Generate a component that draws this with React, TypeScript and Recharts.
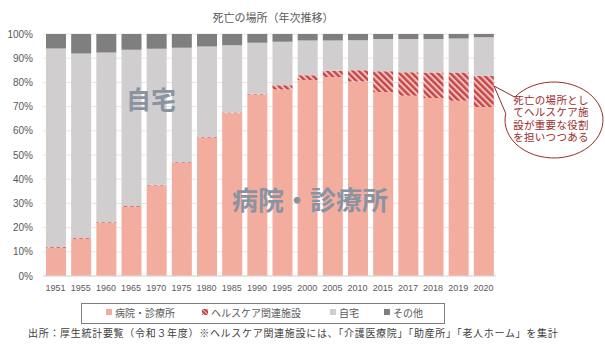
import { Bar, BarChart, CartesianGrid, XAxis, YAxis } from "recharts";

const years = ["1951", "1955", "1960", "1965", "1970", "1975", "1980", "1985", "1990", "1995", "2000", "2005", "2010", "2015", "2017", "2018", "2019", "2020"];
const hospital = [11.7, 15.4, 21.9, 28.6, 37.4, 46.7, 57.0, 67.3, 75.0, 77.1, 81.0, 82.2, 80.4, 76.0, 74.5, 73.6, 72.4, 69.8];
const healthcare = [0.3, 0.3, 0.3, 0.3, 0.3, 0.3, 0.3, 0.3, 0.3, 1.7, 2.0, 2.6, 4.6, 8.6, 9.7, 10.5, 11.7, 12.9];
const home = [82.0, 76.2, 70.2, 64.6, 56.2, 47.3, 37.5, 27.8, 21.1, 18.0, 14.3, 12.5, 12.4, 13.3, 13.7, 13.8, 14.0, 16.0];
const other = [6.0, 8.1, 7.6, 6.5, 6.1, 5.7, 5.2, 4.6, 3.6, 3.2, 2.7, 2.7, 2.6, 2.1, 2.1, 2.1, 1.9, 1.3];
const yTicks = [0, 10, 20, 30, 40, 50, 60, 70, 80, 90, 100];

const title = "死亡の場所（年次推移）";
const legendItems = [
  { label: "病院・診療所", fill: "#f3ad9f" },
  { label: "ヘルスケア関連施設", fill: "url(#hatchSmall)" },
  { label: "自宅", fill: "#d0cece" },
  { label: "その他", fill: "#7f7f7f" },
];
const bubbleLines = ["死亡の場所とし", "てヘルスケア施", "設が重要な役割", "を担いつつある"];
const source = "出所：厚生統計要覧（令和３年度）※ヘルスケア関連施設には、「介護医療院」「助産所」「老人ホーム」を集計";

const data = years.map((y, i) => ({
  year: y,
  hospital: hospital[i],
  healthcare: healthcare[i],
  home: home[i],
  other: other[i],
}));

const JP = "'Liberation Sans', 'Noto Sans CJK JP', sans-serif";
const tick = { fill: "#595959", fontSize: 10, fontFamily: JP };

// speech bubble geometry (ellipse + tail)
const cx = 554, cy = 120, rx = 49, ry = 38;
const pt = (deg: number) => {
  const t = (deg * Math.PI) / 180;
  return `${cx + rx * Math.cos(t)},${cy + ry * Math.sin(t)}`;
};
const bubblePath = `M ${pt(217)} L 494,86 L ${pt(190)} A ${rx} ${ry} 0 1 0 ${pt(217)} Z`;

export default function App() {
  return (
    <div style={{ position: "relative", width: 605, height: 348, background: "#fff", fontFamily: JP }}>
      <style>{"body{margin:0}"}</style>
      <svg width={0} height={0} style={{ position: "absolute" }}>
        <defs>
          <pattern id="hatch" width="4.5" height="4.5" patternUnits="userSpaceOnUse" patternTransform="rotate(-45)">
            <rect width="4.5" height="4.5" fill="#f2c1b8" />
            <rect width="2.4" height="4.5" fill="#c5444b" />
          </pattern>
          <pattern id="hatchSmall" width="3" height="3" patternUnits="userSpaceOnUse" patternTransform="rotate(-45)">
            <rect width="3" height="3" fill="#f2c1b8" />
            <rect width="2" height="3" fill="#c5444b" />
          </pattern>
        </defs>
      </svg>
      <BarChart
        width={605}
        height={348}
        data={data}
        margin={{ top: 34, right: 109, left: 0, bottom: 42 }}
      >
        <CartesianGrid stroke="#e6e6e6" vertical={false} />
        <XAxis
          dataKey="year"
          height={30}
          tick={{ ...tick, fontSize: 9 }}
          tickLine={false}
          tickSize={0}
          tickMargin={9}
          axisLine={{ stroke: "#d9d9d9" }}
          interval={0}
        />
        <YAxis
          width={43}
          domain={[0, 100]}
          ticks={yTicks}
          allowDataOverflow
          tickFormatter={(v) => `${v}%`}
          tick={tick}
          tickLine={false}
          tickSize={0}
          tickMargin={10}
          axisLine={false}
        />
        <Bar dataKey="hospital" stackId="a" fill="#f3ad9f" barSize={20} isAnimationActive={false} />
        <Bar dataKey="healthcare" stackId="a" fill="url(#hatch)" barSize={20} isAnimationActive={false} />
        <Bar dataKey="home" stackId="a" fill="#d0cece" barSize={20} isAnimationActive={false} />
        <Bar dataKey="other" stackId="a" fill="#7f7f7f" barSize={20} isAnimationActive={false} />
      </BarChart>

      <svg width={605} height={348} style={{ position: "absolute", left: 0, top: 0, pointerEvents: "none" }}>
        <text x={273} y={22} textAnchor="middle" fontSize={11} fill="#595959">{title}</text>
        <text x={151} y={109} textAnchor="middle" fontSize={25} fontWeight="bold" fill="#8a93a2">自宅</text>
        <text x={310} y={210} textAnchor="middle" fontSize={26} fontWeight="bold" fill="#8a93a2">病院・診療所</text>
        <path d={bubblePath} fill="#fff" stroke="#9b2c2c" strokeWidth={1} />
        {bubbleLines.map((l, i) => (
          <text key={l} x={551} y={104 + i * 12.4} textAnchor="middle" fontSize={10.5} letterSpacing={0.3} fill="#9b2c2c">
            {l}
          </text>
        ))}
        <rect x={81.5} y={303.5} width={363} height={20} fill="none" stroke="#7f7f7f" strokeWidth={1} />
        {legendItems.map((it, i) => {
          const xs = [106, 202, 330, 384][i];
          return (
            <g key={it.label}>
              <rect x={xs} y={309} width={6} height={6} fill={it.fill} />
              <text x={xs + 9} y={317} fontSize={10} fill="#595959">{it.label}</text>
            </g>
          );
        })}
        <text x={28} y={337} fontSize={10} letterSpacing={0.7} fill="#404040">{source}</text>
      </svg>
    </div>
  );
}
